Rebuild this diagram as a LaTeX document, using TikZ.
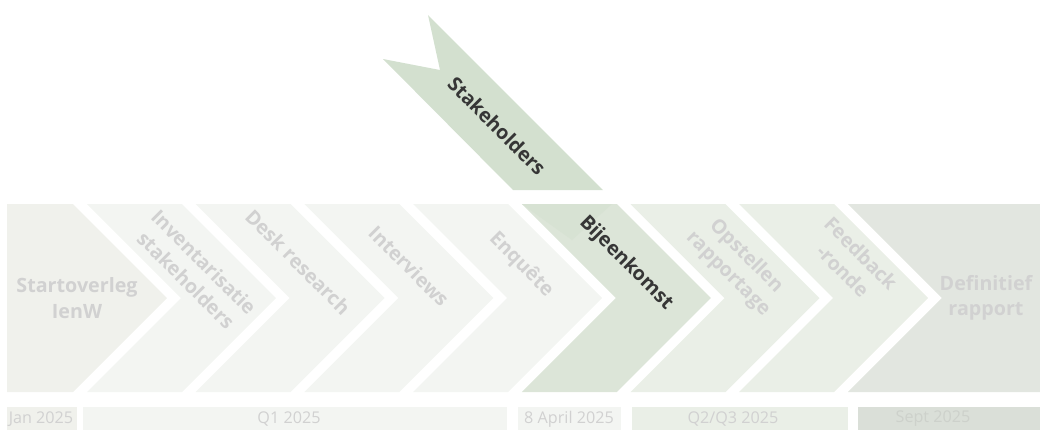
\documentclass[tikz,border=0pt]{standalone}
\usepackage{fontspec}
\setmainfont{Open Sans}
\setsansfont{Open Sans}

\definecolor{startgray}{HTML}{F0F1EC}
\definecolor{palegreen}{HTML}{F3F5F2}
\definecolor{meetgreen}{HTML}{DCE5D8}
\definecolor{reportgreen}{HTML}{EAEFE7}
\definecolor{finalgray}{HTML}{E2E6E0}
\definecolor{septgray}{HTML}{DADFD8}
\definecolor{bannergreen}{HTML}{D3E0CF}
\definecolor{fadedtext}{HTML}{D1D1D1}
\definecolor{darktext}{HTML}{363636}

\tikzstyle{steptext}=[align=center, font=\bfseries\sffamily\fontsize{14}{18}\selectfont, text=fadedtext, inner sep=0pt]
\tikzstyle{diagtext}=[steptext, rotate=-45]
\tikzstyle{keytext}=[diagtext, text=darktext]
\tikzstyle{datebox}=[rectangle, anchor=north west, inner sep=0pt, minimum height=23*0.025cm]
\tikzstyle{datetext}=[font=\sffamily\fontsize{11.5}{13}\selectfont, text=fadedtext, inner sep=0pt]

\begin{document}
\begin{tikzpicture}[x=0.025cm, y=-0.025cm]
  \useasboundingbox (0,0) rectangle (1040,430);

  % Banner
  \fill [bannergreen] (428,15) -- (603,190) -- (513,190) -- (383,59) -- (440,70) -- cycle;

  % Chevrons
  \fill [startgray] (7,204) -- (73,204) -- (167,298) -- (73,392) -- (7,392) -- cycle;
  \foreach \s/\c in {87/palegreen, 195.7/palegreen, 304.4/palegreen, 413.1/palegreen,
                     521.8/meetgreen, 630.5/reportgreen, 739.2/reportgreen}
    \fill [\c] (\s,204) -- ({\s+95},204) -- ({\s+189},298) -- ({\s+95},392)
               -- (\s,392) -- ({\s+94},298) -- cycle;
  \fill [finalgray] (847.9,204) -- (1040,204) -- (1040,392) -- (847.9,392) -- (941.9,298) -- cycle;
  \fill [bannergreen!60!meetgreen] (521.8,204) -- (612,204) -- (572,240) -- cycle;

  % Step labels
  \node (start) [steptext] at (77,298) {Startoverleg\\IenW};
  \node (invent) [diagtext] at (195,271) {Inventarisatie\\stakeholders};
  \node (desk) [diagtext] at (298,262) {Desk research};
  \node (interv) [diagtext] at (409,266) {Interviews};
  \node (enquete) [diagtext] at (521,265) {Enquête};
  \node (meeting) [keytext] at (626,263) {Bijeenkomst};
  \node (report) [diagtext] at (737,265) {Opstellen\\rapportage};
  \node (feedback) [diagtext] at (852,262) {Feedback\\-ronde};
  \node (final) [steptext] at (986,298) {Definitief\\rapport};
  \node (stakeh) [keytext] at (497,126) {Stakeholders};

  % Dates
  \node (janbox) [datebox, fill=startgray, minimum width=70*0.025cm] at (7,407) {};
  \node (q1box) [datebox, fill=palegreen, minimum width=424*0.025cm] at (83,407) {};
  \node (aprbox) [datebox, fill=palegreen, minimum width=103*0.025cm] at (518,407) {};
  \node (q23box) [datebox, fill=reportgreen, minimum width=216*0.025cm] at (632,407) {};
  \node (septbox) [datebox, fill=septgray, minimum width=182*0.025cm] at (858,407) {};
  \node (jan) [datetext] at (41,419) {Jan 2025};
  \node (q1) [datetext] at (289,419) {Q1 2025};
  \node (apr) [datetext] at (569,419) {8 April 2025};
  \node (q23) [datetext] at (733,419) {Q2/Q3 2025};
  \node (sept) [datetext, text=septgray!85!gray] at (933,419) {Sept 2025};
\end{tikzpicture}
\end{document}
